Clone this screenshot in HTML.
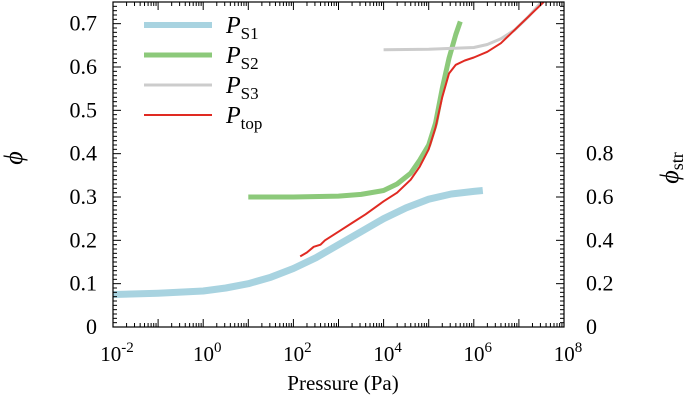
<!DOCTYPE html>
<html><head><meta charset="utf-8"><style>
body{margin:0;background:#fff}
svg text{font-family:"Liberation Serif",serif;fill:#000}
</style></head><body>
<svg id="chart" width="685" height="407" viewBox="0 0 685 407" xmlns="http://www.w3.org/2000/svg"></svg>
<script>
const xTicks=[-2,0,2,4,6,8];
const yTicks=[0,0.1,0.2,0.3,0.4,0.5,0.6,0.7];
const y2Ticks=[0,0.2,0.4,0.6,0.8];
const s1P=[-2,-1,0,0.5,1,1.5,2,2.5,3,3.5,4,4.5,5,5.5,6,6.2];
const s1V=[0.075,0.078,0.083,0.09,0.10,0.115,0.135,0.16,0.19,0.22,0.25,0.275,0.295,0.307,0.313,0.315];
const s2P=[1,2,3,3.5,4,4.3,4.6,4.8,5,5.15,5.3,5.45,5.6,5.7];
const s2V=[0.30,0.30,0.302,0.306,0.315,0.33,0.355,0.385,0.42,0.47,0.55,0.62,0.675,0.705];
const s3P=[4,5,6,6.3,6.6,6.9,7.2,7.5];
const s3V=[0.64,0.641,0.645,0.652,0.665,0.685,0.715,0.75];
const topP=[2.15,2.3,2.45,2.6,2.7,3,3.3,3.6,4,4.3,4.6,4.8,5,5.15,5.3,5.45,5.6,5.8,6,6.3,6.6,6.9,7.2,7.55];
const topV=[0.163,0.172,0.185,0.19,0.2,0.22,0.24,0.26,0.29,0.31,0.34,0.37,0.41,0.46,0.53,0.585,0.605,0.615,0.622,0.635,0.655,0.685,0.715,0.75];
const L=113,R=564,T=2,B=327;
const X=p=>L+(p+2)/10*(R-L);
const Y=v=>B-v/0.75*(B-T);
const Y2=v=>B-v/1.5*(B-T);
const svg=document.getElementById('chart');
const NS='http://www.w3.org/2000/svg';
function el(t,a,p){const e=document.createElementNS(NS,t);for(const k in a)e.setAttribute(k,a[k]);(p||svg).appendChild(e);return e;}
const clip=el('clipPath',{id:'c'});el('rect',{x:L,y:T,width:R-L,height:B-T},clip);
const g=el('g',{'clip-path':'url(#c)'});
function seriesG(P,V,color,w,name){
  const d=P.map((p,i)=>(i?'L':'M')+X(p).toFixed(1)+','+Y(V[i]).toFixed(1)).join(' ');
  const e=el('path',{d:d,fill:'none',stroke:color,'stroke-width':w,'stroke-linejoin':'round'},g);
  
  
}
seriesG(s1P,s1V,'#a8d3e0',7,'series-ps1');
seriesG(s2P,s2V,'#8cc97a',5,'series-ps2');
seriesG(s3P,s3V,'#cccccc',3,'series-ps3');
seriesG(topP,topV,'#e02a22',2,'series-ptop');
const fr=el('rect',{x:L,y:T,width:R-L,height:B-T,fill:'none',stroke:'#000','stroke-width':1.2});

for(let d=-2;d<8;d++){for(let m=1;m<10;m++){const x=L+(d+2+Math.log10(m))/10*(R-L);const len=m==1?8:4;
el('line',{x1:x,x2:x,y1:B,y2:B-len,stroke:'#000','stroke-width':1});el('line',{x1:x,x2:x,y1:T,y2:T+len,stroke:'#000','stroke-width':1});}}
xTicks.forEach(p=>{const t=el('text',{x:X(p)+4,y:B+34,'font-size':21,'text-anchor':'middle'});

t.innerHTML='10<tspan dy="-9" font-size="15">'+p+'</tspan>';});
for(let i=0;i<=75;i++){const v=i/100;const len=i%10==0?8:4;
el('line',{x1:L,x2:L+len,y1:Y(v),y2:Y(v),stroke:'#000','stroke-width':1});
el('line',{x1:R,x2:R-len,y1:Y(v),y2:Y(v),stroke:'#000','stroke-width':1});}
yTicks.forEach(v=>{const t=el('text',{x:L-16,y:Y(v)+7,'font-size':22,'text-anchor':'end'});
t.textContent=v===0?'0':v.toFixed(1);});
y2Ticks.forEach(v=>{const t=el('text',{x:R+22,y:Y2(v)+7,'font-size':22,'text-anchor':'start'});
t.textContent=v===0?'0':v.toFixed(1);});
let t=el('text',{x:343,y:390,'font-size':21,'text-anchor':'middle'});t.textContent='Pressure (Pa)';
t=el('text',{x:0,y:0,'font-size':26,'font-style':'italic','text-anchor':'middle',transform:'translate(22,158) rotate(-90)'});t.textContent='ϕ';
t=el('text',{x:0,y:0,'font-size':26,'text-anchor':'middle',transform:'translate(678,168) rotate(-90)'});t.innerHTML='<tspan font-style="italic">ϕ</tspan><tspan font-size="18" dy="5">str</tspan>';
const leg=[['S1','#a8d3e0',6],['S2','#8cc97a',5],['S3','#cccccc',3],['top','#e02a22',2]];
leg.forEach((l,i)=>{const y=25+i*30;
const ln=el('line',{x1:144,x2:212,y1:y,y2:y,stroke:l[1],'stroke-width':l[2]});
const tx=el('text',{x:226,y:y+8,'font-size':24});
tx.innerHTML='<tspan font-style="italic">P</tspan><tspan font-size="17" dy="6">'+l[0]+'</tspan>';});
</script>
</body></html>
